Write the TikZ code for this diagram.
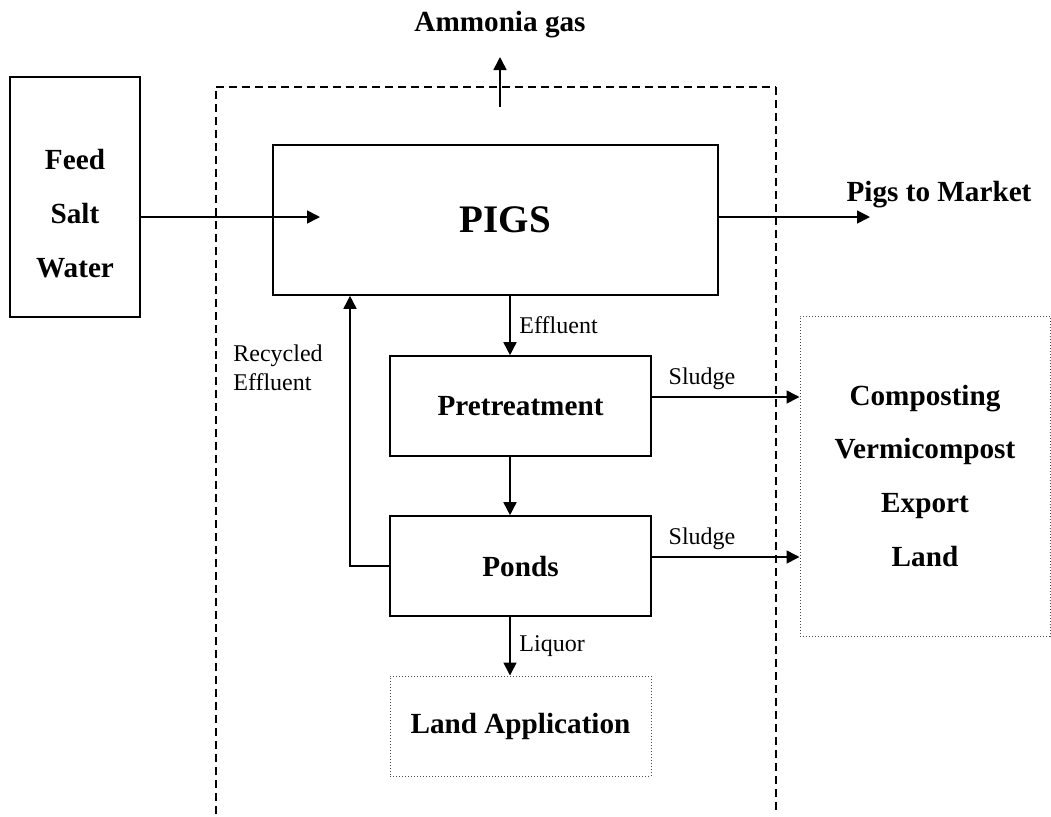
\documentclass[tikz,border=0pt]{standalone}
\usepackage{fontspec}
\setmainfont{Liberation Serif}
\usetikzlibrary{calc,arrows.meta}

\begin{document}
\begin{tikzpicture}[x=0.5pt,y=-0.5pt,
  box/.style={draw, line width=0.8pt, inner sep=0pt},
  dotbox/.style={draw=black!70, densely dotted, line width=0.5pt, inner sep=0pt},
  flow/.style={line width=0.8pt, -{Triangle[length=6.5pt,width=6.5pt]}},
  big/.style={font=\fontsize{14.6}{27}\selectfont\bfseries},
  small/.style={font=\fontsize{12}{14.5}\selectfont}]
\useasboundingbox (0,0) rectangle (1051,816);
\draw[dashed, dash pattern=on 4pt off 2.5pt, line width=0.6pt] (216,814) -- (216,87);
\draw[dash pattern=on 4pt off 2.5pt, line width=1pt] (216,87) -- (776,87);
\draw[dash pattern=on 4pt off 2.5pt, line width=1.3pt] (776,87) -- (776,814);
\node[box, minimum width=65pt, minimum height=120pt, label={[big, align=center, yshift=-8.5pt]center:Feed\\Salt\\Water}] (feed) at (75,197) {};
\node[box, minimum width=222.5pt, minimum height=75pt, font=\fontsize{19.5}{22}\selectfont\bfseries] (pigs) at (495.5,220) {\hspace*{10pt}\raisebox{-3.5pt}{PIGS}};
\node[box, big, minimum width=130.5pt, minimum height=50pt] (pretreat) at (520.5,406) {Pretreatment};
\node[box, big, minimum width=130.5pt, minimum height=50pt] (ponds) at (520.5,566) {Ponds};
\node[dotbox, big, minimum width=130.5pt, minimum height=50pt] (landapp) at (520.5,726) {Land Application};
\node[dotbox, big, align=center, minimum width=125pt, minimum height=160pt] (comp) at (925,476) {Composting\\Vermicompost\\Export\\Land};
\node[big] (ammonia) at (500,25) {Ammonia gas};
\node[big] (market) at (939,195) {Pigs to Market};
\node[small, align=left] (recyc) at (278,368) {Recycled\\Effluent};
\coordinate (nh3) at (500,107);
\coordinate (pigsin) at (320,217);
\coordinate (mkt) at (870,217);
\coordinate (spine) at (510,0);
\coordinate (ret) at (350,0);
\coordinate (sl1) at (0,397);
\coordinate (sl2) at (0,557);
\draw[flow] (nh3) -- ++(0,-50);
\draw[flow] (feed.east |- pigsin) -- (pigsin);
\draw[flow] (pigs.east |- mkt) -- (mkt);
\draw[flow] (pigs.south -| spine) -- node[small, right=1pt]{Effluent} (pretreat.north -| spine);
\draw[flow] (pretreat.south -| spine) -- (ponds.north -| spine);
\draw[flow] (ponds.south -| spine) -- node[small, right=1pt]{Liquor} (landapp.north -| spine);
\draw[flow] (pretreat.east |- sl1) -- node[small, above=0pt, pos=.34]{Sludge} (comp.west |- sl1);
\draw[flow] (ponds.east |- sl2) -- node[small, above=0pt, pos=.34]{Sludge} (comp.west |- sl2);
\draw[flow] (ponds.west) -| (ret |- pigs.south);
\end{tikzpicture}
\end{document}
